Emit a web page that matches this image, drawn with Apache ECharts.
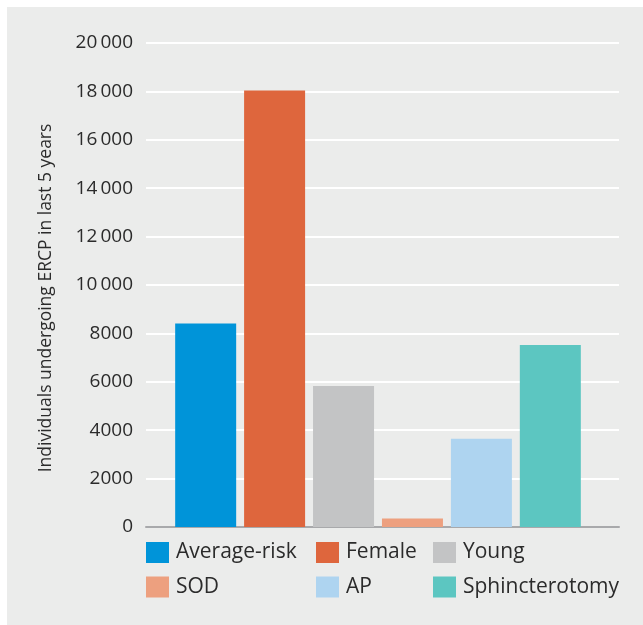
<!DOCTYPE html>
<html>
<head>
<meta charset="utf-8">
<script src="https://cdn.jsdelivr.net/npm/echarts@6/dist/echarts.min.js"></script>
<style>
html,body{margin:0;padding:0;background:#fff;}
#bg{position:absolute;left:7px;top:7px;width:636px;height:618px;background:#ebeceb;}
#chart{position:absolute;left:0;top:0;width:643px;height:625px;}
</style>
</head>
<body>
<div id="bg"></div>
<div id="chart"></div>
<script>
const categories = [''];
const seriesNames = ['Average-risk', 'Female', 'Young', 'SOD', 'AP', 'Sphincterotomy'];
const seriesValues = [8410, 18040, 5830, 350, 3650, 7520];
const seriesColors = ['#0094d9', '#de663d', '#c3c4c5', '#eda07f', '#aed4f0', '#5cc6c1'];
const yTickLabels = {0:'0',2000:'2000',4000:'4000',6000:'6000',8000:'8000',10000:'10\u2009000',12000:'12\u2009000',14000:'14\u2009000',16000:'16\u2009000',18000:'18\u2009000',20000:'20\u2009000'};
const yTitle = 'Individuals undergoing ERCP in last 5 years';

const FONT = 'Open Sans';
const chart = echarts.init(document.getElementById('chart'), null, {renderer:'canvas'});

const legendCols = [[0,3],[1,4],[2,5]];
const legendLefts = [146, 316, 433];
const legends = legendCols.map((idx, c) => ({
  orient: 'vertical',
  left: legendLefts[c],
  top: 542,
  itemWidth: 23,
  itemHeight: 21,
  itemGap: 13.5,
  icon: 'rect',
  padding: 0,
  selectedMode: false,
  data: idx.map(i => seriesNames[i]),
  textStyle: {fontFamily: FONT, fontSize: 21, lineHeight: 21, color: '#2b2b2b', padding: [0,0,0,2]}
}));

chart.setOption({
  backgroundColor: 'transparent',
  animation: false,
  grid: [
    {left: 146, right: 24, top: 43, bottom: 98},
    {left: 146, right: 33, top: 43, bottom: 98}
  ],
  legend: legends,
  graphic: [{
    type: 'text',
    rotation: Math.PI/2,
    x: 46, y: 298,
    style: {text: yTitle, fontFamily: FONT, fontSize: 17.5, fill: '#2b2b2b', align: 'center', verticalAlign: 'middle'}
  }],
  xAxis: [{
    type: 'category',
    gridIndex: 0,
    data: categories,
    axisLine: {show: true, lineStyle: {color: '#a8a9ab', width: 2}},
    axisTick: {show: false},
    axisLabel: {show: false}
  }, {
    type: 'category',
    gridIndex: 1,
    data: categories,
    show: false
  }],
  yAxis: [{
    type: 'value',
    gridIndex: 0,
    min: 0, max: 20000, interval: 2000,
    axisLine: {show: false},
    axisTick: {show: false},
    splitLine: {lineStyle: {color: '#ffffff', width: 2}},
    axisLabel: {
      margin: 13,
      fontFamily: FONT, fontSize: 19, color: '#2b2b2b',
      formatter: v => yTickLabels[v]
    }
  }, {
    type: 'value',
    gridIndex: 1,
    min: 0, max: 20000, interval: 2000,
    show: false,
    splitLine: {show: false}
  }],
  series: seriesNames.map((n, i) => ({
    name: n,
    type: 'bar',
    xAxisIndex: 1,
    yAxisIndex: 1,
    data: [seriesValues[i]],
    barWidth: 61,
    barGap: '13%',
    itemStyle: {color: seriesColors[i]}
  }))
});
</script>
</body>
</html>
